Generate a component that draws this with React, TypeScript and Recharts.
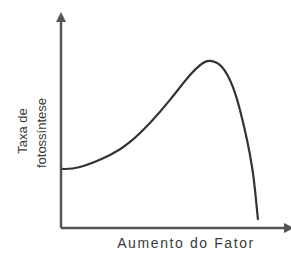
import React from "react";
import { LineChart, Line, XAxis, YAxis } from "recharts";

const factorLevels = [0, 8.3, 21.5, 30.3, 39.0, 47.8, 56.6, 62.3, 65.6, 70.6, 75.4, 78.5, 81.6, 83.8, 85.1, 86.4];
const photosynthesisRate = [28.0, 28.9, 34.6, 40.8, 49.8, 60.7, 72.5, 78.2, 79.2, 76.3, 66.8, 55.9, 41.7, 28.9, 18.0, 3.8];
const xAxisTitle = "Aumento do Fator";
const yAxisTitleLines = ["Taxa de", "fotossíntese"];

const data = factorLevels.map((x, i) => ({ x, y: photosynthesisRate[i] }));

const FONT = "'Liberation Sans', Arial, sans-serif";
const TEXT_COLOR = "#3a3a3a";
const AXIS_COLOR = "#555555";

export default function App() {
  return (
    <div style={{ width: 291, height: 253 }}>
      <style>{`body{margin:0;}`}</style>
      <LineChart width={291} height={253} data={data} margin={{ top: 17, right: 2, bottom: 0, left: 0 }}>
        <defs>
          <marker id="arrowHead" viewBox="0 0 10 10" refX="5" refY="5" markerWidth="4" markerHeight="4" orient="auto-start-reverse">
            <path d="M0,0 L10,5 L0,10 z" fill={AXIS_COLOR} />
          </marker>
        </defs>
        <XAxis
          dataKey="x"
          type="number"
          domain={[0, 100]}
          height={25}
          tick={false}
          tickLine={false}
          axisLine={{ stroke: AXIS_COLOR, strokeWidth: 2.5, markerEnd: "url(#arrowHead)" }}
          label={{
            content: () => (
              <text x={186} y={248} textAnchor="middle" fontFamily={FONT} fontSize={14} letterSpacing={1.6} fill={TEXT_COLOR}>
                {xAxisTitle}
              </text>
            ),
          }}
        />
        <YAxis
          type="number"
          domain={[0, 100]}
          width={61}
          tick={false}
          tickLine={false}
          axisLine={{ stroke: AXIS_COLOR, strokeWidth: 2.5, markerStart: "url(#arrowHead)" }}
          label={{
            content: () => (
              <g>
                <text x={22} y={131} transform="rotate(-90 22 131)" textAnchor="middle" dominantBaseline="central" fontFamily={FONT} fontSize={13} fill={TEXT_COLOR}>
                  {yAxisTitleLines[0]}
                </text>
                <text x={41} y={133} transform="rotate(-90 41 133)" textAnchor="middle" dominantBaseline="central" fontFamily={FONT} fontSize={13} fill={TEXT_COLOR}>
                  {yAxisTitleLines[1]}
                </text>
              </g>
            ),
          }}
        />
        <Line type="natural" dataKey="y" stroke="#333333" strokeWidth={2.2} dot={false} isAnimationActive={false} />
      </LineChart>
    </div>
  );
}
